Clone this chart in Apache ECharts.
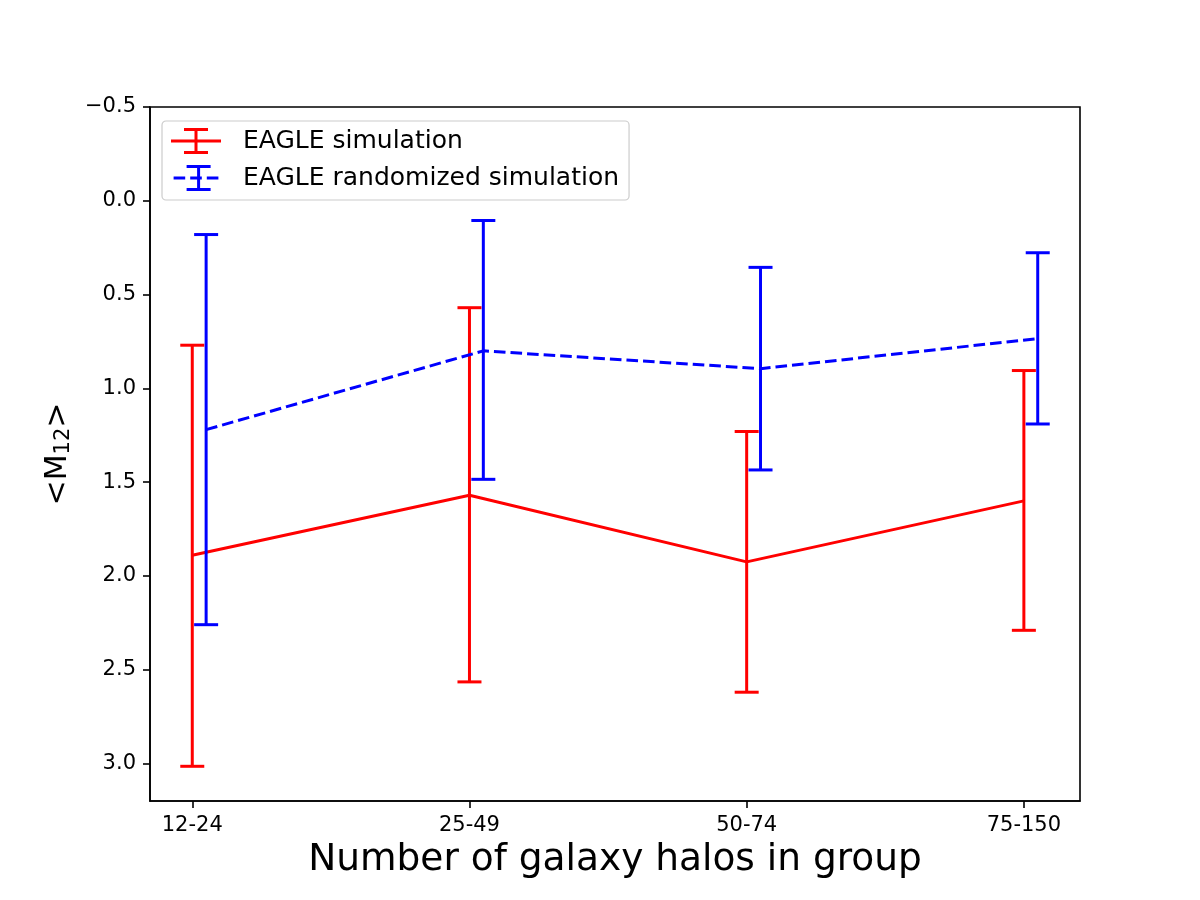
<!DOCTYPE html>
<html>
<head>
<meta charset="utf-8">
<script src="https://cdn.jsdelivr.net/npm/echarts@6/dist/echarts.min.js"></script>
<style>
  html, body { margin: 0; padding: 0; background: #fff; }
  #chart { width: 1200px; height: 900px; }
</style>
</head>
<body>
<div id="chart"></div>
<script>
// categories on the x axis (placed at 0,1,2,3)
const categories = ['12-24', '25-49', '50-74', '75-150'];

// EAGLE simulation: mean and error bar ends
const redMean = [1.89, 1.57, 1.925, 1.60];
const redTop = [0.77, 0.57, 1.23, 0.905];
const redBottom = [3.015, 2.565, 2.62, 2.29];

// EAGLE randomized simulation, drawn slightly shifted to the right
const blueMean = [1.22, 0.80, 0.895, 0.735];
const blueTop = [0.18, 0.105, 0.355, 0.277];
const blueBottom = [2.26, 1.485, 1.435, 1.19];
const blueShift = 0.05;

const yTicks = [-0.5, 0, 0.5, 1.0, 1.5, 2.0, 2.5, 3.0];

const RED = '#ff0000';
const BLUE = '#0000ff';
const FONT = 'DejaVu Sans';
const LW = 3;
const CAP = 12; // half width of error bar caps, px

// legend glyphs: a short line with an error bar through it
const BAR_PARTS = 'M23.5,0H26.5V26H23.5Z M13,0H37V3H13Z M13,23H37V26H13Z';
const RED_ICON = 'path://M0,11.5H50V14.5H0Z ' + BAR_PARTS;
const BLUE_ICON = 'path://M0,11.5H11.6V14.5H0Z M16.6,11.5H28.2V14.5H16.6Z M33.2,11.5H44.8V14.5H33.2Z ' + BAR_PARTS;

const toLine = (means, shift) => means.map((m, i) => [i + shift, m]);
const toBars = (tops, bottoms, shift) => tops.map((t, i) => [i + shift, t, bottoms[i]]);

const errorBars = (color) => (params, api) => {
  const top = api.coord([api.value(0), api.value(1)]);
  const bottom = api.coord([api.value(0), api.value(2)]);
  const style = { stroke: color, lineWidth: LW };
  return {
    type: 'group',
    children: [
      { type: 'line', shape: { x1: top[0], y1: top[1], x2: bottom[0], y2: bottom[1] }, style },
      { type: 'line', shape: { x1: top[0] - CAP, y1: top[1], x2: top[0] + CAP, y2: top[1] }, style },
      { type: 'line', shape: { x1: bottom[0] - CAP, y1: bottom[1], x2: bottom[0] + CAP, y2: bottom[1] }, style },
    ],
  };
};

const chart = echarts.init(document.getElementById('chart'), null, { renderer: 'canvas' });

const axisCommon = {
  axisLine: { show: true, onZero: false, lineStyle: { color: '#000', width: 1.6 } },
  axisTick: { show: true, inside: false, length: 7, lineStyle: { color: '#000', width: 1.6 } },
  splitLine: { show: false },
};

chart.setOption({
  animation: false,
  textStyle: { fontFamily: FONT },
  grid: {
    left: 150, right: 120, top: 107, bottom: 99,
    show: true, borderColor: '#000', borderWidth: 1.6, backgroundColor: '#fff',
  },
  legend: {
    left: 162,
    top: 121,
    orient: 'vertical',
    padding: [7, 10, 9, 9],
    itemGap: 11,
    itemWidth: 50,
    itemHeight: 26,
    borderColor: '#cccccc',
    borderWidth: 1.2,
    borderRadius: 4,
    backgroundColor: 'rgba(255,255,255,0.8)',
    textStyle: { fontSize: 25, color: '#000', fontFamily: FONT, padding: [0, 0, 0, 17] },
    data: [
      { name: 'EAGLE simulation', icon: RED_ICON, itemStyle: { color: RED } },
      { name: 'EAGLE randomized simulation', icon: BLUE_ICON, itemStyle: { color: BLUE } },
    ],
  },
  xAxis: {
    type: 'value',
    min: -0.1525,
    max: 3.2025,
    ...axisCommon,
    axisTick: { ...axisCommon.axisTick, customValues: [0, 1, 2, 3] },
    axisLabel: {
      customValues: [0, 1, 2, 3],
      formatter: (v) => categories[Math.round(v)],
      fontSize: 21, color: '#000', margin: 14, fontFamily: FONT,
    },
    name: 'Number of galaxy halos in group',
    nameLocation: 'middle',
    nameGap: 38,
    nameTextStyle: { fontSize: 37.5, color: '#000', fontFamily: FONT, lineHeight: 38 },
  },
  yAxis: {
    type: 'value',
    inverse: true,
    min: -0.5,
    max: 3.2,
    ...axisCommon,
    axisTick: { ...axisCommon.axisTick, customValues: yTicks },
    axisLabel: {
      customValues: yTicks,
      formatter: (v) => (v < 0 ? '\u2212' + Math.abs(v).toFixed(1) : v.toFixed(1)),
      fontSize: 21, color: '#000', margin: 14, fontFamily: FONT,
    },
    name: '{a|<M}{s|12}{a|>}',
    nameLocation: 'middle',
    nameRotate: 90,
    nameGap: 72,
    nameTextStyle: {
      color: '#000',
      rich: {
        a: { fontSize: 30, lineHeight: 32, fontFamily: FONT, color: '#000' },
        s: { fontSize: 21, lineHeight: 21, verticalAlign: 'bottom', fontFamily: FONT, color: '#000' },
      },
    },
  },
  series: [
    {
      name: 'EAGLE simulation',
      type: 'line',
      data: toLine(redMean, 0),
      symbol: 'none',
      lineStyle: { color: RED, width: LW },
      itemStyle: { color: RED },
      z: 2,
    },
    {
      name: 'EAGLE simulation',
      type: 'custom',
      data: toBars(redTop, redBottom, 0),
      encode: { x: 0, y: [1, 2] },
      renderItem: errorBars(RED),
      itemStyle: { color: RED },
      z: 3,
    },
    {
      name: 'EAGLE randomized simulation',
      type: 'line',
      data: toLine(blueMean, blueShift),
      symbol: 'none',
      lineStyle: { color: BLUE, width: LW, type: [11.6, 5] },
      itemStyle: { color: BLUE },
      z: 4,
    },
    {
      name: 'EAGLE randomized simulation',
      type: 'custom',
      data: toBars(blueTop, blueBottom, blueShift),
      encode: { x: 0, y: [1, 2] },
      renderItem: errorBars(BLUE),
      itemStyle: { color: BLUE },
      z: 5,
    },
  ],
});
</script>
</body>
</html>
